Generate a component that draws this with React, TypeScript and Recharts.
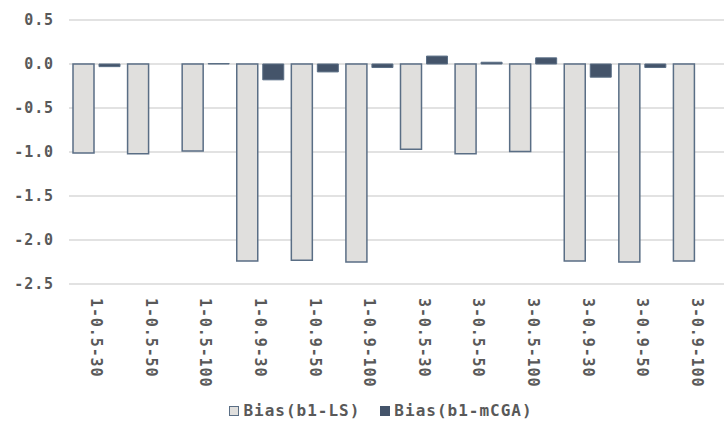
import { BarChart, Bar, XAxis, YAxis, CartesianGrid } from "recharts";

const categories = [
  "1-0.5-30",
  "1-0.5-50",
  "1-0.5-100",
  "1-0.9-30",
  "1-0.9-50",
  "1-0.9-100",
  "3-0.5-30",
  "3-0.5-50",
  "3-0.5-100",
  "3-0.9-30",
  "3-0.9-50",
  "3-0.9-100",
];

const biasLS = [-1.01, -1.02, -0.99, -2.24, -2.23, -2.25, -0.97, -1.02, -0.995, -2.24, -2.25, -2.24];
const biasMCGA = [-0.03, 0.0, 0.005, -0.18, -0.09, -0.04, 0.09, 0.02, 0.07, -0.15, -0.04, 0.0];

const yTicks = [-2.5, -2.0, -1.5, -1.0, -0.5, 0.0, 0.5];

const data = categories.map((c, i) => ({
  name: c,
  ls: biasLS[i],
  mcga: biasMCGA[i],
}));

const FONT = "'DejaVu Sans Mono', monospace";
const TEXT = "#595959";

const XTick = ({ x, y, payload }: any) => {
  const ty = y + 6;
  return (
    <text
      x={x}
      y={ty}
      transform={`rotate(90, ${x}, ${ty})`}
      textAnchor="start"
      dominantBaseline="central"
      fontFamily={FONT}
      fontSize={15}
      fontWeight={600}
      letterSpacing={0.9}
      fill={TEXT}
    >
      {payload.value}
    </text>
  );
};

const YTick = ({ x, y, payload }: any) => (
  <text
    x={x - 7}
    y={y}
    textAnchor="end"
    dominantBaseline="central"
    fontFamily={FONT}
    fontSize={15}
    fontWeight={600}
    letterSpacing={0.9}
    fill={TEXT}
  >
    {payload.value.toFixed(1)}
  </text>
);

const Legend = () => (
  <div
    style={{
      position: "absolute",
      top: 401,
      left: 18,
      width: 726,
      display: "flex",
      justifyContent: "center",
      gap: 20,
      fontFamily: FONT,
      fontSize: 16,
      fontWeight: 600,
      letterSpacing: 1,
      color: TEXT,
    }}
  >
    <span style={{ display: "flex", alignItems: "center" }}>
      <span
        style={{
          width: 10,
          height: 10,
          background: "#e0dfdd",
          border: "1px solid #5a6e85",
          boxSizing: "border-box",
          marginRight: 4,
        }}
      />
      Bias(b1-LS)
    </span>
    <span style={{ display: "flex", alignItems: "center" }}>
      <span
        style={{
          width: 10,
          height: 10,
          background: "#44546a",
          marginRight: 4,
        }}
      />
      Bias(b1-mCGA)
    </span>
  </div>
);

export default function App() {
  return (
    <div
      style={{
        position: "absolute",
        left: 0,
        top: 0,
        width: 726,
        height: 430,
        background: "#fff",
        overflow: "hidden",
      }}
    >
      <BarChart
        width={726}
        height={430}
        data={data}
        margin={{ top: 20, right: 2, bottom: 26, left: 9 }}
        barSize={21}
        barGap={5}
      >
        <CartesianGrid vertical={false} stroke="#d9d9d9" strokeWidth={1.5} />
        <XAxis
          dataKey="name"
          axisLine={false}
          tickLine={false}
          tick={<XTick />}
          interval={0}
          height={120}
        />
        <YAxis
          domain={[-2.5, 0.5]}
          ticks={yTicks}
          interval={0}
          axisLine={false}
          tickLine={false}
          width={60}
          tick={<YTick />}
        />
        <Bar
          dataKey="ls"
          fill="#e0dfdd"
          stroke="#5a6e85"
          strokeWidth={1.5}
          isAnimationActive={false}
        />
        <Bar
          dataKey="mcga"
          fill="#44546a"
          stroke="#5a6e85"
          strokeWidth={1}
          isAnimationActive={false}
        />
      </BarChart>
      <Legend />
    </div>
  );
}
